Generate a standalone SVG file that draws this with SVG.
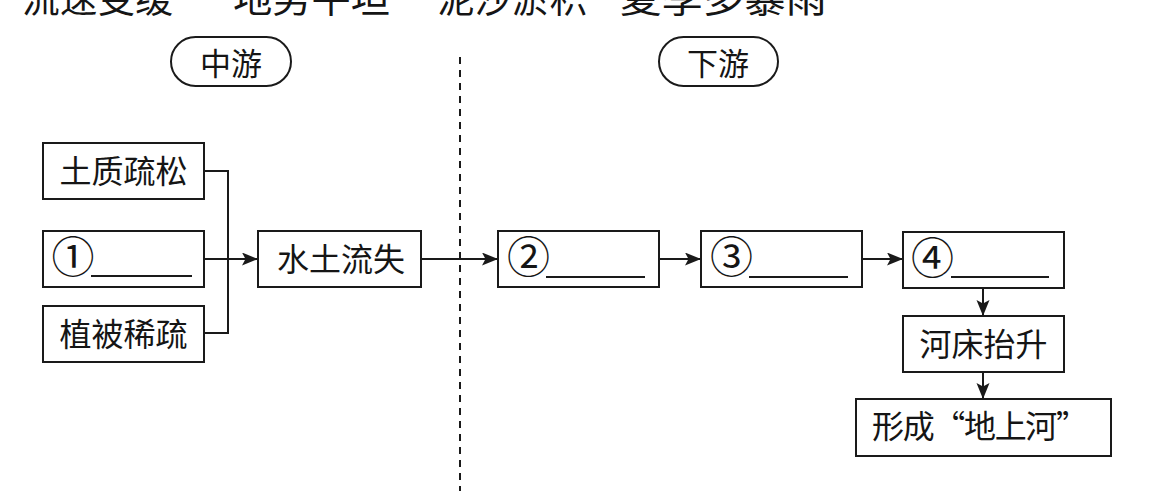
<svg xmlns="http://www.w3.org/2000/svg" width="1163" height="491" viewBox="0 0 1163 491">
  <style>
    .box { fill: #ffffff; stroke: #1a1a1a; stroke-width: 2; }
    .pill { fill: #ffffff; stroke: #1a1a1a; stroke-width: 2; }
    .t { font-family: "Noto Sans CJK SC", "Noto Sans", sans-serif; font-size: 32px; fill: #151515; text-anchor: middle; }
    .num { font-family: "Noto Sans CJK SC", "Noto Sans", sans-serif; font-size: 43px; fill: #151515; text-anchor: middle; }
    .top { font-family: "Noto Sans CJK SC", "Noto Sans", sans-serif; font-size: 38px; fill: #151515; }
    .blank { stroke: #1a1a1a; stroke-width: 2; }
    .conn { fill: none; stroke: #1a1a1a; stroke-width: 2; }
    .dash { fill: none; stroke: #1a1a1a; stroke-width: 2; stroke-dasharray: 7 6; }
  </style>
  <defs>
    <marker id="arr" markerUnits="userSpaceOnUse" markerWidth="18" markerHeight="14" refX="16" refY="6.5" orient="auto">
      <path d="M0,0 L16,6.5 L0,13 L3.5,6.5 Z" fill="#1a1a1a"/>
    </marker>
  </defs>
  <rect width="1163" height="491" fill="#ffffff"/>

  <g id="top-line">
    <text class="top" x="22" y="12" textLength="151" lengthAdjust="spacingAndGlyphs">流速变缓</text>
    <text class="top" x="233" y="12" textLength="157" lengthAdjust="spacingAndGlyphs">地势平坦</text>
    <text class="top" x="437" y="12" textLength="150" lengthAdjust="spacingAndGlyphs">泥沙淤积</text>
    <text class="top" x="620" y="12" textLength="207" lengthAdjust="spacingAndGlyphs">夏季多暴雨</text>
  </g>

  <g id="connectors">
    <line class="dash" x1="460" y1="57" x2="460" y2="491"/>
    <polyline class="conn" points="204,171 228,171 228,333 204,333"/>
    <line class="conn" x1="204" y1="259" x2="258" y2="259" marker-end="url(#arr)"/>
    <line class="conn" x1="421" y1="259" x2="498" y2="259" marker-end="url(#arr)"/>
    <line class="conn" x1="659" y1="259" x2="701" y2="259" marker-end="url(#arr)"/>
    <line class="conn" x1="862" y1="259" x2="903" y2="259" marker-end="url(#arr)"/>
    <line class="conn" x1="983" y1="288" x2="983" y2="316" marker-end="url(#arr)"/>
    <line class="conn" x1="983" y1="372" x2="983" y2="399" marker-end="url(#arr)"/>
  </g>

  <g id="label-zhongyou">
    <rect class="pill" x="171" y="37" width="120" height="49" rx="24.5" ry="24.5"/>
    <text class="t" x="231" y="75" style="font-size:31px">中游</text>
  </g>
  <g id="label-xiayou">
    <rect class="pill" x="659" y="37" width="119" height="49" rx="24.5" ry="24.5"/>
    <text class="t" x="718" y="75" style="font-size:31px">下游</text>
  </g>

  <g id="node-tuzhi">
    <rect class="box" x="43" y="143" width="161" height="56"/>
    <text class="t" x="123.5" y="183">土质疏松</text>
  </g>
  <g id="node-1">
    <rect class="box" x="43" y="231" width="161" height="56"/>
    <text class="num" x="73" y="273">①</text>
    <line class="blank" x1="91" y1="276" x2="192" y2="276"/>
  </g>
  <g id="node-zhibei">
    <rect class="box" x="43" y="306" width="161" height="56"/>
    <text class="t" x="123.5" y="346">植被稀疏</text>
  </g>
  <g id="node-shuitu">
    <rect class="box" x="258" y="231" width="163" height="56"/>
    <text class="t" x="341" y="271">水土流失</text>
  </g>
  <g id="node-2">
    <rect class="box" x="498" y="231" width="161" height="56"/>
    <text class="num" x="528.5" y="273">②</text>
    <line class="blank" x1="546" y1="277" x2="645" y2="277"/>
  </g>
  <g id="node-3">
    <rect class="box" x="701" y="231" width="161" height="56"/>
    <text class="num" x="731.5" y="273">③</text>
    <line class="blank" x1="749" y1="277" x2="848" y2="277"/>
  </g>
  <g id="node-4">
    <rect class="box" x="903" y="232" width="161" height="56"/>
    <text class="num" x="932.5" y="274">④</text>
    <line class="blank" x1="951" y1="277" x2="1049" y2="277"/>
  </g>
  <g id="node-hechuang">
    <rect class="box" x="903" y="316" width="161" height="56"/>
    <text class="t" x="983.5" y="356">河床抬升</text>
  </g>
  <g id="node-dishanghe">
    <rect class="box" x="856" y="399" width="255" height="57"/>
    <text class="t" x="980" y="438" textLength="216" lengthAdjust="spacing">形成“地上河”</text>
  </g>
</svg>
